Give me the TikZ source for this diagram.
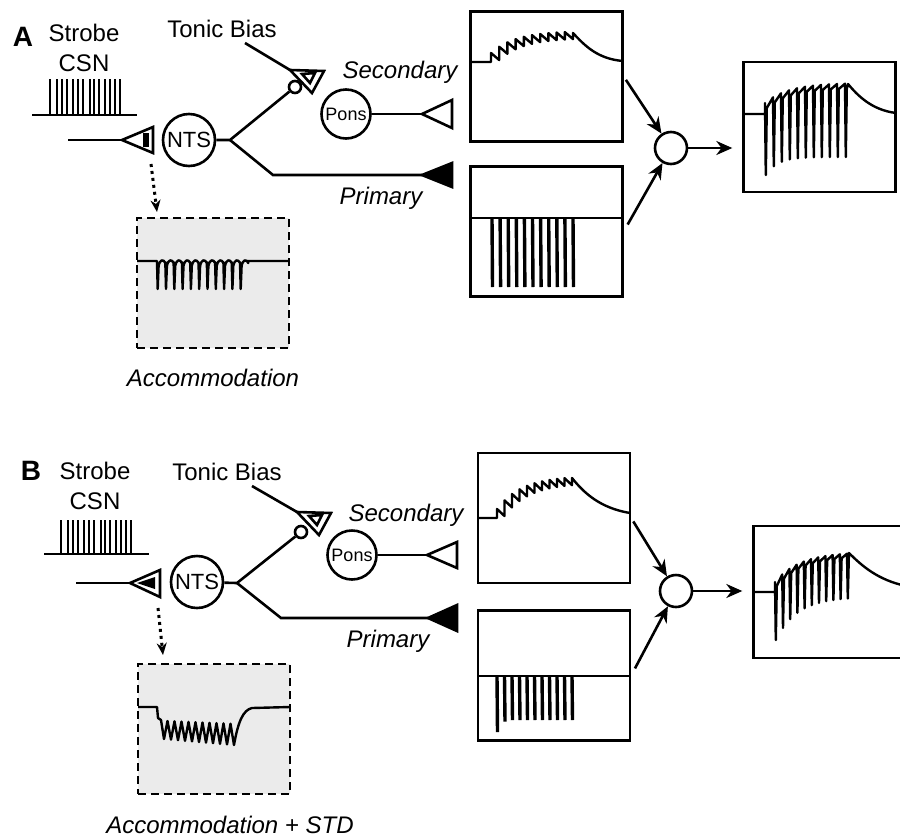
\documentclass[tikz,border=0pt]{standalone}
\usepackage{fontspec}
\setmainfont{Liberation Sans}
\usetikzlibrary{arrows, arrows.meta, positioning, calc}
\tikzstyle{axon} = [line width=1.3pt]
\tikzstyle{arrow} = [line width=1.3pt,-{Stealth[length=8pt,width=7pt]}]
\tikzstyle{dotarrow} = [line width=1.5pt, dotted, -{Stealth[length=6pt,width=5pt]}]
\tikzstyle{cell} = [circle, draw, line width=1.3pt, inner sep=0pt, fill=white]
\tikzstyle{tracebox} = [rectangle, draw, line width=1.2pt, minimum width=76pt, minimum height=65pt, inner sep=0pt]
\tikzstyle{accbox} = [rectangle, draw, line width=1.2pt, dash pattern=on 4pt off 2.5pt, fill=black!8, minimum width=76pt, minimum height=65pt, inner sep=0pt]
\tikzstyle{trace} = [line width=1.2pt, line join=round]
\tikzstyle{spike} = [line width=1.7pt]
\tikzstyle{strobe} = [line width=1.2pt]
\tikzstyle{txt} = [font=\fontsize{12}{15}\selectfont, align=center, inner sep=0pt]
\tikzstyle{itxt} = [font=\fontsize{12}{15}\selectfont\itshape, inner sep=0pt]
\tikzstyle{panel} = [font=\fontsize{14}{16}\selectfont\bfseries, inner sep=0pt]

\begin{document}
\begin{tikzpicture}[x=0.5pt, y=-0.5pt]
    \useasboundingbox (0,0) rectangle (900,836);
    \clip (0,0) rectangle (900,836);

    % ---------------- Panel A ----------------
    \node[panel] (labA) at (23,37) {A};
    \node[txt] (strobeA) at (84,48) {Strobe\\CSN};
    \node[txt] (tonicA) at (222,29) {Tonic Bias};
    \node[itxt] (secondaryA) at (400,72) {Secondary};
    \node[itxt] (primaryA) at (381,198) {Primary};

    % strobe train
    \draw[axon] (32,115) -- (137,115);
    \foreach \x in {50,57,62,67,73,78,83,90,94,99,105,110,115,120}
        \draw[strobe] (\x,115) -- (\x,79);

    % cells
    \node[cell, minimum size=26pt, font=\fontsize{11}{13}\selectfont] (ntsA) at (189,140) {NTS};
    \node[cell, minimum size=24.5pt, font=\fontsize{9}{11}\selectfont] (ponsA) at (346,114) {Pons};
    \node[cell, minimum size=6pt] (termA) at (295,87) {};
    \coordinate (inA) at (68,140);
    \coordinate (synA) at (122,140);
    \coordinate (brA) at (230,140);
    \coordinate (kneeA) at (273,175);
    \coordinate (primtipA) at (422,175);
    \coordinate (sectipA) at (422,114);
    \coordinate (tonA) at (245,43);
    \coordinate (tsynA) at (290,70);

    \draw[axon] (inA) -- (synA);
    \draw[axon] (ntsA) -- (brA) -- (termA);
    \draw[axon] (brA) -- (kneeA) -- (primtipA);
    \draw[axon] (ponsA) -- (sectipA);
    \draw[axon] (tonA) -- (tsynA);

    % synapses
    \draw[axon] (synA) -- (153,127) -- (153,153) -- cycle;
    \fill (143,133) rectangle (149,147);
    \draw[axon] (tsynA) -- (324,71) -- (312,93) -- cycle;
    \draw[axon] (302,74) -- (315,73) -- (310,83) -- cycle;
    \draw[axon, fill=white] (sectipA) -- (452,100) -- (452,128) -- cycle;
    \draw[axon, fill=black] (primtipA) -- (452,163) -- (452,187) -- cycle;

    % accommodation
    \node[accbox] (accA) at (213,283) {};
    \node[itxt, below=10pt of accA] (acclabA) {Accommodation};
    \coordinate (dotA) at (151,164);
    \coordinate (dotendA) at (157,212);
    \draw[dotarrow] (dotA) -- (dotendA);
    \draw[trace] (137,261) -- (157,261)
        \foreach \i in {0,...,10} {
            -- ({157+8.3*\i},262) -- ({157.7+8.3*\i},289) -- ({158.6+8.3*\i},266)
            .. controls ({160+8.3*\i},259) and ({163.5+8.3*\i},259) .. ({165.3+8.3*\i},263)
        }
        -- (248,261) -- (289,261);

    % traces
    \node[tracebox] (secboxA) at (546.5,76.5) {};
    \node[tracebox] (primboxA) at (546.5,231.5) {};
    \node[cell, minimum size=16pt] (sumA) at (671,148) {};
    \node[tracebox] (outA) at (819.5,127) {};

    \draw[trace] (470,62) -- (491,62)
        \foreach \i in {0,...,9} {
            -- ({491+8.2*\i},{53-22*(1-exp(-\i/3))})
            -- ({499.2+8.2*\i},{60-22*(1-exp(-\i/3))})
        }
        -- (573,33) .. controls (585,46) and (598,59) .. (623,61);

    \draw[trace] (470,218) -- (623,218);
    \foreach \i in {0,...,10}
        \draw[spike] ({492+8.1*\i},218) -- ({492.5+8.1*\i},287);

    \draw[trace] (743,114) -- (765,114)
        \foreach \i in {0,...,10} {
            -- ({765+8*\i},{103-20*(1-exp(-\i/3))})
            -- ({765.8+8*\i},{157+18*exp(-\i/1.5)})
            -- ({766.8+8*\i},{108-20*(1-exp(-\i/3))})
        }
        -- (848,84) .. controls (858,96) and (872,110) .. (896,113);

    \draw[arrow, shorten <=2pt] (secboxA.east) -- (sumA);
    \draw[arrow, shorten <=4pt] (primboxA.east) -- (sumA);
    \draw[arrow, shorten >=5pt] (sumA) -- (sumA -| outA.west);

    % ---------------- Panel B ----------------
    \node[panel] (labB) at (31,471) {B};
    \node[txt] (strobeB) at (95,486) {Strobe\\CSN};
    \node[txt] (tonicB) at (227,472) {Tonic Bias};
    \node[itxt] (secondaryB) at (406,515) {Secondary};
    \node[itxt] (primaryB) at (388,641) {Primary};

    % strobe train
    \draw[axon] (44,554) -- (149,554);
    \foreach \x in {61,68,73,78,84,89,94,101,105,110,116,121,126,131}
        \draw[strobe] (\x,554) -- (\x,520);

    % cells
    \node[cell, minimum size=26pt, font=\fontsize{11}{13}\selectfont] (ntsB) at (197,582) {NTS};
    \node[cell, minimum size=24.5pt, font=\fontsize{9}{11}\selectfont] (ponsB) at (352,555) {Pons};
    \node[cell, minimum size=6pt] (termB) at (301,532) {};
    \coordinate (inB) at (76,583);
    \coordinate (synB) at (130,583);
    \coordinate (brB) at (237,583);
    \coordinate (kneeB) at (281,618);
    \coordinate (primtipB) at (428,618);
    \coordinate (sectipB) at (427,555);
    \coordinate (tonB) at (252,486);
    \coordinate (tsynB) at (297,512);

    \draw[axon] (inB) -- (synB);
    \draw[axon] (ntsB) -- (brB) -- (termB);
    \draw[axon] (brB) -- (kneeB) -- (primtipB);
    \draw[axon] (ponsB) -- (sectipB);
    \draw[axon] (tonB) -- (tsynB);

    % synapses
    \draw[axon] (synB) -- (160,570) -- (160,597) -- cycle;
    \fill (137,583) -- (155,577) -- (155,589) -- cycle;
    \draw[axon] (tsynB) -- (331,513) -- (319,535) -- cycle;
    \draw[axon] (309,516) -- (322,515) -- (317,525) -- cycle;
    \draw[axon, fill=white] (sectipB) -- (457,542) -- (457,568) -- cycle;
    \draw[axon, fill=black] (primtipB) -- (457,605) -- (457,631) -- cycle;

    % accommodation + STD
    \node[accbox] (accB) at (214,729) {};
    \node[itxt, below=10pt of accB, xshift=8pt] (acclabB) {Accommodation + STD};
    \coordinate (dotB) at (158,608);
    \coordinate (dotendB) at (163,655);
    \draw[dotarrow] (dotB) -- (dotendB);
    \draw[trace] (138,707) -- (157,707) -- (158,718) -- (161,720)
        \foreach \i in {0,...,9} {
            -- ({164+7*\i},{739+0.6*\i}) -- ({167.5+7*\i},{721+0.3*\i})
        }
        -- (234,745) .. controls (238,722) and (243,710) .. (252,708) -- (290,707);

    % traces
    \node[tracebox] (secboxB) at (554,518) {};
    \node[tracebox] (primboxB) at (554,675.5) {};
    \node[cell, minimum size=16pt] (sumB) at (676,591) {};
    \node[tracebox, minimum height=66pt] (outB) at (829.5,592) {};

    \draw[trace] (478,518) -- (497,518)
        \foreach \i in {0,...,9} {
            -- ({497+7.5*\i},{509-33*(1-exp(-\i/3.3))})
            -- ({504.5+7.5*\i},{516-33*(1-exp(-\i/3.3))})
        }
        -- (572,478) .. controls (584,493) and (600,508) .. (630,513);

    \draw[trace] (478,676) -- (630,676);
    \foreach \i in {0,...,10}
        \draw[spike] ({497+7.5*\i},676) -- ({497.5+7.5*\i},{720+12*exp(-2*\i)});

    \draw[trace] (753,592) -- (775,592)
        \foreach \i in {0,...,10} {
            -- ({775+7.2*\i},{582-30*(1-exp(-\i/3.5))})
            -- ({775.8+7.2*\i},{597+43*exp(-\i/3)})
            -- ({776.8+7.2*\i},{586-30*(1-exp(-\i/3.5))})
        }
        -- (849,553) .. controls (862,566) and (878,580) .. (906,586);

    \draw[arrow, shorten <=2pt] (secboxB.east) -- (sumB);
    \draw[arrow, shorten <=4pt] (primboxB.east) -- (sumB);
    \draw[arrow, shorten >=5pt] (sumB) -- (sumB -| outB.west);
\end{tikzpicture}
\end{document}
